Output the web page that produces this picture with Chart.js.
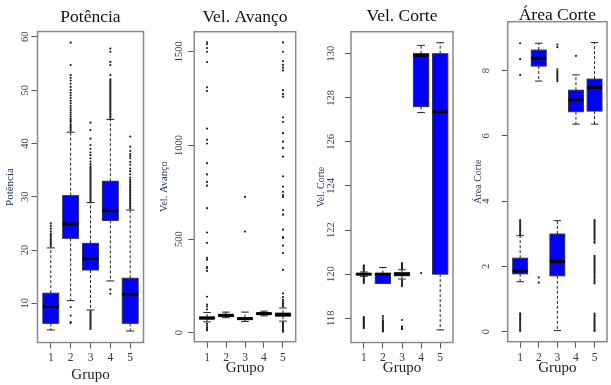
<!DOCTYPE html>
<html>
<head>
<meta charset="utf-8">
<script src="https://cdn.jsdelivr.net/npm/chart.js@4.4.0/dist/chart.umd.min.js"></script>
<style>
  html, body { margin: 0; padding: 0; background: #fff; }
  #wrap { position: relative; width: 611px; height: 385px; overflow: hidden; }
  .panel { position: absolute; top: 0; height: 385px; }
</style>
</head>
<body>
<div id="wrap">
  <div class="panel" style="left:0;width:150px"><canvas id="c1"></canvas></div>
  <div class="panel" style="left:150px;width:150px"><canvas id="c2"></canvas></div>
  <div class="panel" style="left:300px;width:157px"><canvas id="c3"></canvas></div>
  <div class="panel" style="left:457px;width:154px"><canvas id="c4"></canvas></div>
</div>
<script>
const groups = [1, 2, 3, 4, 5];

// Potência
const potLow = [5.0, 10.5, 8.75, 14.2, 4.8];
const potQ1 = [6.25, 22.2, 16.25, 25.55, 6.25];
const potMed = [9.4, 24.9, 18.4, 27.4, 11.7];
const potQ3 = [11.9, 30.2, 21.25, 32.9, 14.7];
const potHigh = [20.4, 42.1, 28.9, 44.5, 27.5];
const potOut = [
  [20.7, 21.0, 21.3, 21.6, 21.9, 22.2, 22.5, 22.8, 23.1, 23.5, 24.0, 24.5, 25.0],
  [42.4, 42.7, 43.0, 43.3, 43.6, 44.0, 44.3, 44.6, 45.0, 45.4, 45.8, 46.2, 46.6, 47.0, 47.5,
   48.0, 48.5, 49.0, 49.5, 50.0, 50.6, 51.2, 51.8, 52.3, 52.8, 54.7, 58.9, 9.3, 7.7, 6.5, 6.3],
  [29.1, 29.4, 29.7, 30.0, 30.3, 30.6, 30.9, 31.2, 31.5, 31.8, 32.1, 32.4, 32.7, 33.0, 33.3,
   33.6, 33.9, 34.2, 34.5, 34.8, 35.1, 35.4, 35.7, 36.1, 36.6, 37.2, 37.8, 38.3, 39.0, 39.7,
   40.9, 42.5, 43.9, 8.5, 8.2, 7.9, 7.6, 7.3, 7.0, 6.7, 6.4, 6.1, 5.8, 5.5, 5.2],
  [44.8, 45.1, 45.4, 45.7, 46.0, 46.3, 46.6, 46.9, 47.2, 47.5, 47.8, 48.1, 48.4, 48.7, 49.0,
   49.3, 49.6, 49.9, 50.2, 50.5, 50.8, 51.1, 51.4, 51.7, 52.0, 52.8, 54.7, 55.3, 57.2, 57.8,
   12.6, 11.8],
  [27.8, 28.1, 28.4, 28.7, 29.0, 29.3, 29.6, 29.9, 30.2, 30.5, 30.8, 31.1, 31.4, 31.7, 32.0,
   32.3, 32.6, 32.9, 33.2, 33.6, 34.2, 34.8, 35.3, 36.0, 36.5, 37.2, 37.6, 38.0, 38.6, 39.4, 41.3]
];
const potTicks = [10, 20, 30, 40, 50, 60];

// Vel. Avanço
const avLow = [58, 80, 60, 90, 62];
const avQ1 = [74, 86, 72, 98, 88];
const avMed = [78, 93, 75, 102, 98];
const avQ3 = [84, 96, 80, 106, 104];
const avHigh = [108, 110, 110, 115, 132];
const avOut = [
  [1550, 1540, 1520, 1500, 1445, 1310, 1290, 1090, 1030, 1010, 905, 845, 805, 785, 665, 535,
   480, 400, 390, 350, 345, 330, 192, 150, 140, 125, 48, 38, 28, 20, 12],
  [],
  [725, 540],
  [],
  [1550, 1500, 1450, 1430, 1415, 1400, 1295, 1275, 1260, 1150, 1125, 1065, 1020, 985, 940, 835,
   780, 752, 735, 725, 655, 630, 550, 510, 505, 465, 425, 335, 210, 190, 175, 165, 155, 148, 140,
   55, 48, 40, 32, 25, 18, 10, 5]
];
const avTicks = [0, 500, 1000, 1500];

// Vel. Corte
const vcLow = [119.9, 119.58, 119.78, 127.33, 117.47];
const vcQ1 = [119.98, 119.58, 119.93, 127.6, 120];
const vcMed = [120, 120.0, 120, 129.93, 127.36];
const vcQ3 = [120.02, 120.03, 120.07, 130, 130];
const vcHigh = [120.1, 120.3, 120.2, 130.38, 130.5];
const vcOut = [
  [120.15, 120.2, 120.25, 120.3, 120.35, 120.4, 119.85, 119.8, 119.75, 119.7, 119.65, 119.6,
   118.05, 118.0, 117.95, 117.9, 117.85, 117.8, 117.75, 117.7, 117.65, 117.6, 117.55],
  [118.1, 118.0, 117.9, 117.85, 117.8, 117.75, 117.7, 117.65, 117.6, 117.55, 117.5, 117.45, 117.4],
  [120.25, 120.3, 120.35, 120.4, 120.45, 120.5, 119.72, 119.66, 119.6, 119.55, 119.5, 119.46,
   117.92, 117.62, 117.55, 117.5],
  [120.05],
  []
];
const vcTicks = [118, 120, 122, 124, 126, 128, 130];

// Área Corte
const acLow = [1.53, 7.68, 0.03, 6.36, 6.36];
const acQ1 = [1.77, 8.14, 1.71, 6.74, 6.76];
const acMed = [1.86, 8.38, 2.15, 7.1, 7.48];
const acQ3 = [2.25, 8.63, 2.99, 7.4, 7.74];
const acHigh = [2.94, 8.84, 3.40, 7.87, 8.86];
const acOut = [
  [8.84, 8.35, 7.87, 3.42, 3.37, 3.32, 3.27, 3.22, 3.17, 3.12, 3.07, 3.02, 2.97,
   0.56, 0.51, 0.46, 0.41, 0.36, 0.31, 0.26, 0.21, 0.16, 0.11, 0.06, 0.02],
  [1.66, 1.5],
  [8.8, 8.72, 8.04, 7.98, 7.93, 7.88, 7.83, 7.78, 7.73, 7.68],
  [8.45],
  [3.42, 3.37, 3.32, 3.27, 3.22, 3.17, 3.12, 3.07, 3.02, 2.97, 2.92, 2.87, 2.82, 2.77, 2.72,
   2.32, 2.27, 2.22, 2.17, 2.12, 2.07, 2.02, 1.97, 1.92, 1.87, 1.82, 1.77, 1.72, 1.67, 1.62,
   1.57, 1.52, 1.48, 0.55, 0.5, 0.45, 0.4, 0.35, 0.3, 0.25, 0.2, 0.15, 0.1, 0.05, 0.02]
];
const acTicks = [0, 2, 4, 6, 8];

const serif = "'Liberation Serif', 'DejaVu Serif', serif";

function boxPlugin(low, q1, med, q3, high) {
  return {
    id: 'boxes',
    beforeDatasetsDraw(chart) {
      const { ctx, scales: { x, y } } = chart;
      ctx.save();
      groups.forEach((g, i) => {
        const xc = x.getPixelForValue(g);
        const xl = x.getPixelForValue(g - 0.4);
        const xr = x.getPixelForValue(g + 0.4);
        const cl = x.getPixelForValue(g - 0.2);
        const cr = x.getPixelForValue(g + 0.2);
        const yLo = y.getPixelForValue(low[i]);
        const yQ1 = y.getPixelForValue(q1[i]);
        const yMed = y.getPixelForValue(med[i]);
        const yQ3 = y.getPixelForValue(q3[i]);
        const yHi = y.getPixelForValue(high[i]);

        // whiskers
        ctx.strokeStyle = '#222';
        ctx.lineWidth = 1;
        ctx.setLineDash([3, 2]);
        ctx.beginPath();
        ctx.moveTo(xc, yQ3); ctx.lineTo(xc, yHi);
        ctx.moveTo(xc, yQ1); ctx.lineTo(xc, yLo);
        ctx.stroke();
        ctx.setLineDash([]);
        ctx.beginPath();
        ctx.moveTo(cl, yHi); ctx.lineTo(cr, yHi);
        ctx.moveTo(cl, yLo); ctx.lineTo(cr, yLo);
        ctx.stroke();

        // box
        ctx.fillStyle = '#0000ff';
        ctx.fillRect(xl, yQ3, xr - xl, yQ1 - yQ3);
        ctx.strokeStyle = '#333';
        ctx.strokeRect(xl, yQ3, xr - xl, yQ1 - yQ3);

        // median
        ctx.lineWidth = 3;
        ctx.strokeStyle = '#000';
        ctx.beginPath();
        ctx.moveTo(xl, yMed); ctx.lineTo(xr, yMed);
        ctx.stroke();
      });
      ctx.restore();
    }
  };
}

const framePlugin = {
  id: 'frame',
  afterDraw(chart) {
    const { ctx, chartArea: a } = chart;
    ctx.save();
    ctx.strokeStyle = '#8a8a8a';
    ctx.lineWidth = 1.5;
    ctx.strokeRect(a.left, a.top, a.right - a.left, a.bottom - a.top);
    ctx.restore();
  }
};

function renderPanel(canvas, p) {
  const points = p.out.flatMap((vals, i) => vals.map(v => ({ x: groups[i], y: v })));
  return new Chart(canvas, {
    type: 'scatter',
    data: {
      datasets: [{
        data: points,
        pointRadius: 1.1,
        pointBackgroundColor: '#222',
        pointBorderWidth: 0,
      }],
    },
    options: {
      responsive: true,
      maintainAspectRatio: false,
      animation: false,
      events: [],
      layout: { padding: { left: 0, right: p.padRight, top: 0, bottom: 0 } },
      plugins: {
        legend: { display: false },
        tooltip: { enabled: false },
        title: {
          display: true,
          text: p.title,
          fullSize: false,
          color: '#111',
          font: { family: serif, size: 17.5, weight: 'normal' },
          padding: { top: p.titleTop, bottom: p.titleBottom },
        },
      },
      scales: {
        x: {
          type: 'linear',
          min: 0.33,
          max: 5.67,
          afterBuildTicks: s => { s.ticks = groups.map(v => ({ value: v })); },
          afterFit: s => { s.height = p.xHeight; },
          grid: { drawOnChartArea: false, drawTicks: true, tickLength: 6, color: '#555' },
          border: { display: false },
          ticks: { color: '#333', font: { family: serif, size: 11.5 }, padding: 3, callback: v => String(v) },
          title: {
            display: true,
            text: 'Grupo',
            color: '#222',
            font: { family: serif, size: 15 },
            padding: { top: 0, bottom: p.xTitleBottom },
          },
        },
        y: {
          min: p.yMin,
          max: p.yMax,
          afterBuildTicks: s => { s.ticks = p.ticks.map(v => ({ value: v })); },
          afterFit: s => { s.width = p.yWidth; },
          grid: { drawOnChartArea: false, drawTicks: true, tickLength: 6, color: '#555' },
          border: { display: false },
          ticks: {
            color: '#3a3a55',
            font: { family: serif, size: 10.5 },
            minRotation: 90,
            maxRotation: 90,
            autoSkip: false,
            crossAlign: 'center',
            padding: p.tickPad,
            callback: v => String(v),
          },
          title: {
            display: true,
            text: p.yTitle,
            color: '#1f2f55',
            font: { family: serif, size: p.yTitleSize },
            padding: { top: p.yTitlePad, bottom: 0 },
          },
        },
      },
    },
    plugins: [boxPlugin(p.low, p.q1, p.med, p.q3, p.high), framePlugin],
  });
}

renderPanel(document.getElementById('c1'), {
  title: 'Potência', yTitle: 'Potência',
  low: potLow, q1: potQ1, med: potMed, q3: potQ3, high: potHigh, out: potOut, ticks: potTicks,
  yMin: 2.65, yMax: 61,
  yWidth: 37.5, padRight: 6.5, titleTop: 6.5, titleBottom: 4, xHeight: 42.5,
  xTitleBottom: 1, tickPad: 1.2, yTitleSize: 11, yTitlePad: 3.4,
});

renderPanel(document.getElementById('c2'), {
  title: 'Vel. Avanço', yTitle: 'Vel. Avanço',
  low: avLow, q1: avQ1, med: avMed, q3: avQ3, high: avHigh, out: avOut, ticks: avTicks,
  yMin: -48, yMax: 1607,
  yWidth: 44.3, padRight: 4.3, titleTop: 6.5, titleBottom: 4.2, xHeight: 43.3,
  xTitleBottom: 8, tickPad: -1.5, yTitleSize: 10.5, yTitlePad: 8,
});

renderPanel(document.getElementById('c3'), {
  title: 'Vel. Corte', yTitle: 'Vel. Corte',
  low: vcLow, q1: vcQ1, med: vcMed, q3: vcQ3, high: vcHigh, out: vcOut, ticks: vcTicks,
  yMin: 116.9, yMax: 131,
  yWidth: 51, padRight: 1.3, titleTop: 5.5, titleBottom: 5.2, xHeight: 42.5,
  xTitleBottom: 8, tickPad: 5.4, yTitleSize: 10, yTitlePad: 15.7,
});

renderPanel(document.getElementById('c4'), {
  title: 'Área Corte', yTitle: 'Área Corte',
  low: acLow, q1: acQ1, med: acMed, q3: acQ3, high: acHigh, out: acOut, ticks: acTicks,
  yMin: -0.31, yMax: 9.5,
  yWidth: 50.7, padRight: 1, titleTop: 5.3, titleBottom: -4.6, xHeight: 43.3,
  xTitleBottom: 8, tickPad: 12.4, yTitleSize: 10, yTitlePad: 15.3,
});
</script>
</body>
</html>
